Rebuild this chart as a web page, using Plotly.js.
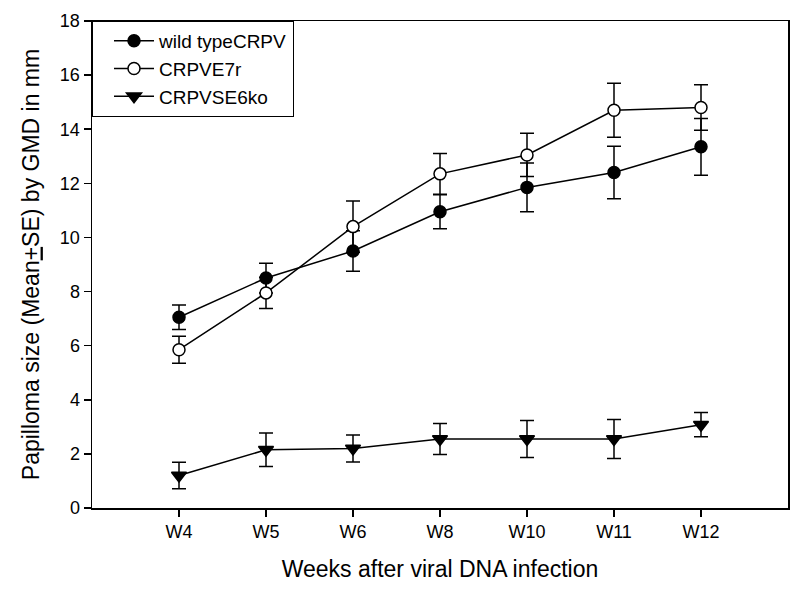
<!DOCTYPE html>
<html>
<head>
<meta charset="utf-8">
<script src="https://cdn.plot.ly/plotly-3.0.1.min.js"></script>
<style>html,body{margin:0;padding:0;background:#fff;}#chart{width:800px;height:597px;}</style>
</head>
<body>
<div id="chart"></div>
<script>
const weeks = ["W4", "W5", "W6", "W8", "W10", "W11", "W12"];
const wildType = [7.05, 8.5, 9.5, 10.95, 11.85, 12.4, 13.35];
const wildTypeSE = [0.45, 0.55, 0.75, 0.63, 0.9, 0.97, 1.05];
const e7r = [5.85, 7.95, 10.4, 12.35, 13.05, 14.7, 14.8];
const e7rSE = [0.5, 0.58, 0.95, 0.75, 0.8, 1.0, 0.84];
const e6ko = [1.2, 2.15, 2.2, 2.55, 2.55, 2.55, 3.08];
const e6koSE = [0.49, 0.62, 0.5, 0.57, 0.68, 0.72, 0.45];

function series(name, y, se, symbol, fill, size) {
  return {
    type: "scatter", mode: "lines+markers", name: name,
    x: weeks.map((w, i) => i), y: y,
    error_y: {type: "data", array: se, visible: true, color: "#000", thickness: 1.5, width: 7},
    line: {color: "#000", width: 1.5},
    marker: {symbol: symbol, size: size, color: fill, line: {color: "#000", width: 1.5}}
  };
}
const data = [
  series("wild typeCRPV", wildType, wildTypeSE, "circle", "#000", 12),
  series("CRPVE7r", e7r, e7rSE, "circle", "#fff", 12),
  series("CRPVSE6ko", e6ko, e6koSE, "triangle-down", "#000", 13)
];
const layout = {
  width: 800, height: 597,
  margin: {l: 92, r: 12, t: 21, b: 89},
  paper_bgcolor: "#fff", plot_bgcolor: "#fff",
  font: {family: "Liberation Sans, Arial, sans-serif", color: "#000", size: 18},
  showlegend: true,
  legend: {x: 0, y: 1, xanchor: "left", yanchor: "top", bordercolor: "#000", borderwidth: 1,
           bgcolor: "#fff", font: {size: 19}, tracegroupgap: 0, itemwidth: 40, indentation: 16},
  xaxis: {
    range: [-1, 7], tickmode: "array", tickvals: weeks.map((w, i) => i), ticktext: weeks,
    showgrid: false, zeroline: false, showline: true, mirror: true, linecolor: "#000", linewidth: 1.5,
    ticks: "outside", ticklen: 7, tickwidth: 1.5, tickcolor: "#000",
    title: {text: "Weeks after viral DNA infection", font: {size: 23}, standoff: 20},
    tickfont: {size: 18}
  },
  yaxis: {
    range: [0, 18], dtick: 2, tick0: 0,
    showgrid: false, zeroline: false, showline: true, mirror: true, linecolor: "#000", linewidth: 1.5,
    ticks: "outside", ticklen: 7, tickwidth: 1.5, tickcolor: "#000",
    title: {text: "Papilloma size (Mean<u>+</u>SE) by GMD in mm", font: {size: 23}, standoff: 14},
    tickfont: {size: 18}
  }
};
Plotly.newPlot("chart", data, layout, {displayModeBar: false, staticPlot: true});
</script>
</body>
</html>
